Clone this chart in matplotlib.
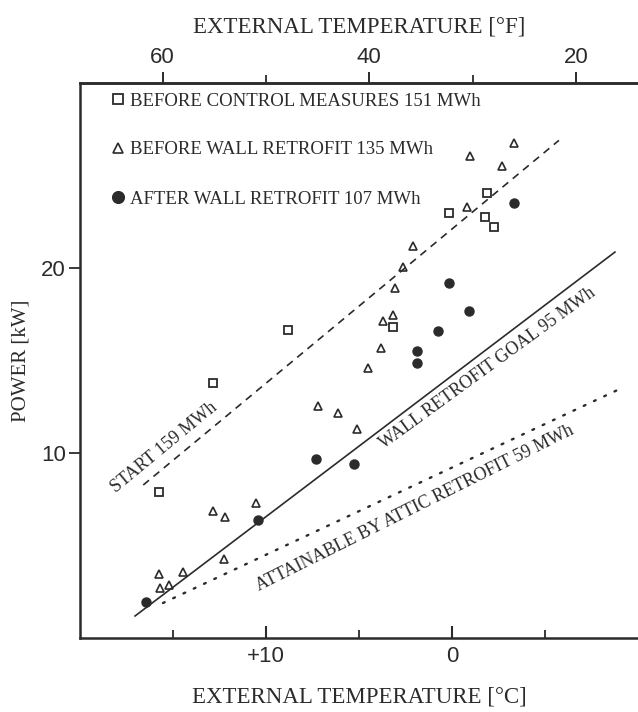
import matplotlib.pyplot as plt
import numpy as np

plt.rcParams['font.family'] = ['Liberation Serif', 'DejaVu Serif']

output_path = 'out.png'

# before control measures, 151 MWh (open squares)
sq_temp = [15.75, 12.85, 8.82, 3.17, 0.16, -1.88, -1.77, -2.26]
sq_power = [7.89, 13.78, 16.65, 16.81, 22.97, 24.05, 22.76, 22.22]

# before wall retrofit, 135 MWh (open triangles)
tri_temp = [-3.33, -0.97, -2.69, -0.81, 2.10, 2.63, 3.06, 3.71, 3.17, 3.82, 4.52,
            7.20, 6.13, 5.11, 12.85, 12.20, 10.54, 12.26, 15.75, 15.70, 15.22, 14.46]
tri_power = [26.76, 26.05, 25.51, 23.30, 21.19, 20.05, 18.92, 17.14, 17.46, 15.68, 14.59,
             12.54, 12.16, 11.30, 6.86, 6.54, 7.30, 4.27, 3.46, 2.70, 2.86, 3.57]

# after wall retrofit, 107 MWh (filled circles)
dot_temp = [-3.33, 0.16, -0.91, 0.75, 1.88, 1.88, 7.31, 5.27, 10.43, 16.45]
dot_power = [23.51, 19.19, 17.68, 16.59, 15.51, 14.86, 9.68, 9.41, 6.38, 1.95]

# reference lines (end points)
start_temp = [16.6, -5.75]
start_power = [8.27, 26.9]
goal_temp = [17.04, -8.76]
goal_power = [1.19, 20.86]
attic_temp = [15.54, -9.25]
attic_power = [1.89, 13.57]

c_ticks = [10, 0]
c_minor = [15, 5, -5]
c_labels = ['+10', '0']
f_ticks = [60, 40, 20]
f_minor = [50, 30]

ink = '#2b2b2b'
tick_font = 'Liberation Sans'


def c2f(c):
    return np.asarray(c) * 9.0 / 5.0 + 32.0


def f2c(f):
    return (np.asarray(f) - 32.0) * 5.0 / 9.0


fig = plt.figure(figsize=(6.38, 7.12), dpi=100)
ax = fig.add_axes([80 / 638, 74 / 712, 558 / 638, 555 / 712])

ax.plot(start_temp, start_power, color=ink, lw=1.2, linestyle=(0, (4.5, 3.5)))
ax.plot(goal_temp, goal_power, color=ink, lw=1.2)
ax.plot(attic_temp, attic_power, color=ink, lw=1.7, linestyle=(0, (0.8, 4.0)),
        dash_capstyle='round')

ax.plot(sq_temp, sq_power, 's', ms=6, mfc='none', mec=ink, mew=1.3,
        label='BEFORE CONTROL MEASURES 151 MWh')
ax.plot(tri_temp, tri_power, '^', ms=6, mfc='none', mec=ink, mew=1.2,
        label='BEFORE WALL RETROFIT 135 MWh')
ax.plot(dot_temp, dot_power, 'o', ms=6.5, mfc=ink, mec=ink,
        label='AFTER WALL RETROFIT 107 MWh')

ax.text(15.5, 10.3, 'START 159 MWh', rotation=39.5, rotation_mode='anchor',
        ha='center', va='center', fontsize=13, color=ink)
ax.text(-1.9, 14.6, 'WALL RETROFIT GOAL 95 MWh', rotation=36, rotation_mode='anchor',
        ha='center', va='center', fontsize=13, color=ink)
ax.text(2.0, 7.0, 'ATTAINABLE BY ATTIC RETROFIT 59 MWh', rotation=26.5, rotation_mode='anchor',
        ha='center', va='center', fontsize=13, color=ink)

ax.legend(loc='upper left', bbox_to_anchor=(0.035, 1.0), frameon=False, fontsize=13.5,
          handletextpad=0.1, handlelength=1.0, labelspacing=1.7, borderaxespad=0.1,
          markerscale=1.3, labelcolor=ink)

ax.set_xlim(20, -10)
ax.set_ylim(0, 30)

ax.set_xticks(c_ticks)
ax.set_xticks(c_minor, minor=True)
ax.set_xticklabels(c_labels, family=tick_font, fontsize=16, color=ink)
ax.set_yticks([10, 20])
ax.set_yticklabels(['10', '20'], family=tick_font, fontsize=16, color=ink)
ax.tick_params(axis='x', which='major', direction='in', length=9, width=1.5, pad=6, colors=ink)
ax.tick_params(axis='x', which='minor', direction='in', length=6, width=1.3, colors=ink)
ax.tick_params(axis='y', which='major', direction='out', length=8, width=1.3, pad=2, colors=ink)

for side in ['left', 'top', 'bottom']:
    ax.spines[side].set_linewidth(1.8)
    ax.spines[side].set_color(ink)
ax.spines['right'].set_visible(False)

secax = ax.secondary_xaxis('top', functions=(c2f, f2c))
secax.set_xticks(f_ticks)
secax.set_xticks(f_minor, minor=True)
secax.set_xticklabels([str(t) for t in f_ticks], family=tick_font, fontsize=16, color=ink)
secax.tick_params(which='major', direction='out', length=8, width=1.4, pad=3, colors=ink)
secax.tick_params(which='minor', direction='out', length=6, width=1.3, colors=ink)
secax.spines['top'].set_linewidth(1.8)
secax.spines['top'].set_color(ink)
secax.set_xlabel('EXTERNAL TEMPERATURE [°F]', fontsize=16.5, color=ink, labelpad=10)

ax.set_xlabel('EXTERNAL TEMPERATURE [°C]', fontsize=16.5, color=ink, labelpad=14)
ax.set_ylabel('POWER [kW]', fontsize=15, color=ink, labelpad=8)

plt.savefig(output_path, dpi=100)
